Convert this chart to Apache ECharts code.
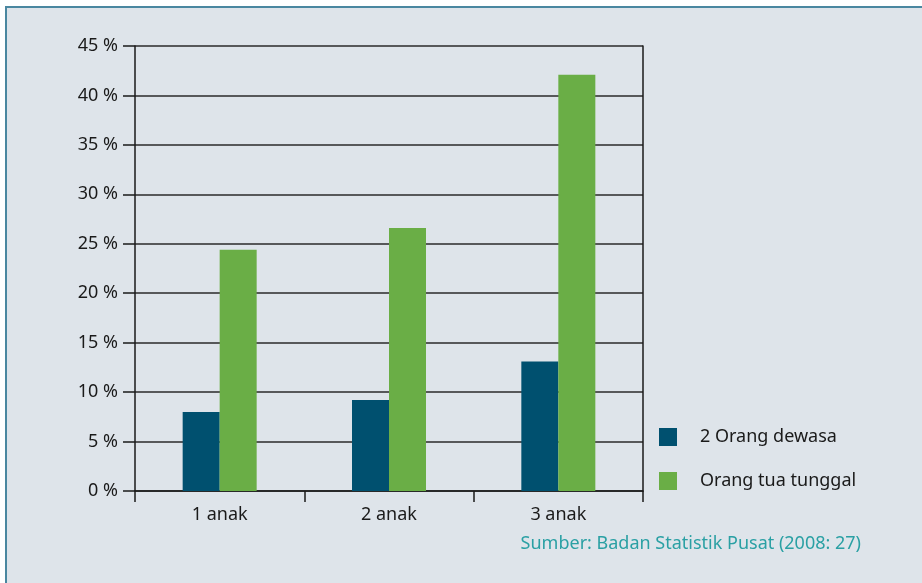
<!DOCTYPE html>
<html>
<head>
<meta charset="utf-8">
<script src="https://cdn.jsdelivr.net/npm/echarts@6/dist/echarts.min.js"></script>
<style>
html,body{margin:0;padding:0;background:#ffffff;}
#c{width:922px;height:583px;}
</style>
</head>
<body>
<div id="c"></div>
<script>
const categories = ['1 anak', '2 anak', '3 anak'];
const seriesNames = ['2 Orang dewasa', 'Orang tua tunggal'];
const twoAdults = [8.0, 9.2, 13.1];
const singleParent = [24.4, 26.6, 42.1];
const yTicks = [0, 5, 10, 15, 20, 25, 30, 35, 40, 45];
const sourceText = 'Sumber: Badan Statistik Pusat (2008: 27)';

const font = '"Noto Sans", "Open Sans", sans-serif';
const chart = echarts.init(document.getElementById('c'));
chart.setOption({
  animation: false,
  backgroundColor: '#ffffff',
  graphic: [
    { type: 'rect', z: -10, shape: { x: 6, y: 7, width: 930, height: 590 },
      style: { fill: '#dee4ea', stroke: '#4a87a0', lineWidth: 2 } },
    { type: 'text', right: 61, top: 535,
      style: { text: sourceText, fill: '#2aa0a4', font: '18px ' + font } }
  ],
  grid: { left: 135, right: 279, top: 46, bottom: 92 },
  legend: {
    orient: 'vertical', left: 654, top: 423, itemWidth: 18, itemHeight: 18, itemGap: 26,
    icon: 'rect',
    textStyle: { fontFamily: font, fontSize: 18, color: '#1a1a1a', padding: [0, 0, 0, 18] },
    data: seriesNames
  },
  xAxis: {
    type: 'category', data: categories,
    axisLine: { lineStyle: { color: '#1a1a1a', width: 1.5 } },
    axisTick: { show: true, length: 11, alignWithLabel: false, lineStyle: { color: '#1a1a1a', width: 1.5 } },
    axisLabel: { fontFamily: font, fontSize: 18, color: '#1a1a1a', margin: 15 }
  },
  yAxis: [{
    type: 'value', min: yTicks[0], max: yTicks[yTicks.length - 1], interval: 5,
    axisLine: { show: true, lineStyle: { color: '#1a1a1a', width: 1.5 } },
    axisTick: { show: true, length: 12, lineStyle: { color: '#1a1a1a', width: 1.5 } },
    axisLabel: { fontFamily: font, fontSize: 18, color: '#1a1a1a', margin: 17, formatter: v => v + ' %' },
    splitLine: { lineStyle: { color: '#2a2a2a', width: 1.5 } }
  }, {
    type: 'value', position: 'right', min: 0, max: 45, interval: 5,
    axisLine: { show: true, lineStyle: { color: '#1a1a1a', width: 1.5 } },
    axisTick: { show: false }, axisLabel: { show: false }, splitLine: { show: false }
  }],
  series: [
    { name: seriesNames[0], type: 'bar', data: twoAdults, barWidth: 37, barGap: '0%',
      itemStyle: { color: '#00506f' } },
    { name: seriesNames[1], type: 'bar', data: singleParent, barWidth: 37, barGap: '0%',
      itemStyle: { color: '#6aae46' } }
  ]
});
</script>
</body>
</html>
